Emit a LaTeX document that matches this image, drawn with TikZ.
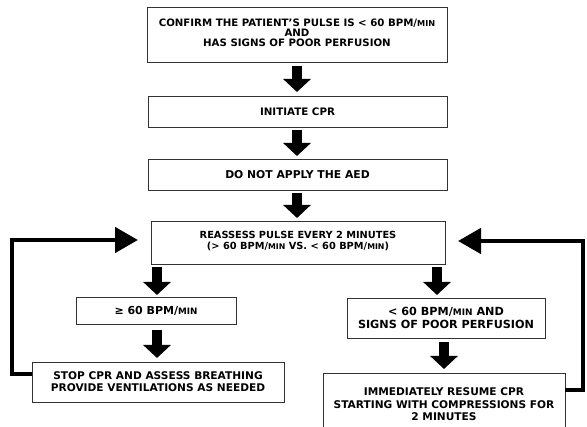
\documentclass[tikz,border=0pt]{standalone}
\usepackage{fontspec}
\setmainfont{DejaVu Sans}[BoldFont={* Bold}]
\usetikzlibrary{arrows.meta}
\newcommand\mn{{\fontsize{0.8\fontdimen6\font}{1em}\selectfont MIN}}
\newcommand\fs[2]{\fontsize{#1}{#2}\selectfont\bfseries}
\tikzset{
  box/.style={draw=black!80, line width=0.8pt, align=center, inner sep=1pt,
    font=\fs{10.5pt}{12pt}},
  bigarrow/.style={line width=10pt, -{Triangle[length=13pt,width=27pt]}, black},
  loop/.style={line width=4.5pt, -{Triangle[length=23pt,width=25pt]}, black}
}
\begin{document}
\begin{tikzpicture}[x=1pt,y=-1pt]
\useasboundingbox (0,0) rectangle (587,427);
\clip (0,0) rectangle (587,427);
\fill[white] (0,0) rectangle (587,427);
\node[box, minimum width=300pt, minimum height=55pt, text depth=4pt, font=\fs{10.2pt}{9.9pt}] (b1) at (297,34.5)
  {CONFIRM THE PATIENT'S PULSE IS < 60 BPM/\mn\\AND\\HAS SIGNS OF POOR PERFUSION};
\node[box, minimum width=299pt, minimum height=31pt, font=\fs{10.3pt}{12pt}] (b2) at (297.5,111.5) {INITIATE CPR};
\node[box, minimum width=299pt, minimum height=31pt, font=\fs{10.8pt}{12pt}] (b3) at (297.5,174.5) {DO NOT APPLY THE AED};
\node[box, minimum width=294pt, minimum height=43pt, text depth=4pt, font=\fs{9.8pt}{10.5pt}] (b4) at (298,242.5)
  {REASSESS PULSE EVERY 2 MINUTES\\(> 60 BPM/\mn{} VS. < 60 BPM/\mn)};
\node[box, minimum width=160pt, minimum height=27pt, font=\fs{11pt}{12pt}] (b5) at (156,310.5)
  {≥ 60 BPM/\mn};
\node[box, minimum width=252pt, minimum height=40pt, font=\fs{10.6pt}{11.8pt}] (b6) at (158,382)
  {STOP CPR AND ASSESS BREATHING\\PROVIDE VENTILATIONS AS NEEDED};
\node[box, minimum width=198pt, minimum height=40pt, font=\fs{11.2pt}{13pt}] (b7) at (446,318)
  {< 60 BPM/\mn{} AND\\SIGNS OF POOR PERFUSION};
\node[box, minimum width=242pt, minimum height=62pt, anchor=north, font=\fs{10.6pt}{12.4pt}] (b8) at (444,373)
  {IMMEDIATELY RESUME CPR\\STARTING WITH COMPRESSIONS FOR\\2 MINUTES};
% coordinates for arrows
\coordinate (a1s) at (297,66); \coordinate (a1e) at (297,92);
\draw[bigarrow] (a1s) -- (a1e);
\coordinate (a2s) at (297,130); \coordinate (a2e) at (297,156);
\draw[bigarrow] (a2s) -- (a2e);
\coordinate (a3s) at (297,193); \coordinate (a3e) at (297,218);
\draw[bigarrow] (a3s) -- (a3e);
\coordinate (a4s) at (157,267); \coordinate (a4e) at (157,295);
\draw[bigarrow] (a4s) -- (a4e);
\coordinate (a5s) at (157,330); \coordinate (a5e) at (157,358);
\draw[bigarrow] (a5s) -- (a5e);
\coordinate (a6s) at (437,267); \coordinate (a6e) at (437,295);
\draw[bigarrow] (a6s) -- (a6e);
\coordinate (a7s) at (444,342); \coordinate (a7e) at (444,369);
\draw[bigarrow] (a7s) -- (a7e);
% loops
\coordinate (lt) at (138,240);
\draw[loop] (b6.west |- 0,374) -- (12,374) -- (12,240) -- (lt);
\coordinate (rt) at (458,241);
\draw[loop] (b8.east |- 0,390) -- (583,390) -- (583,241) -- (rt);
\end{tikzpicture}
\end{document}
